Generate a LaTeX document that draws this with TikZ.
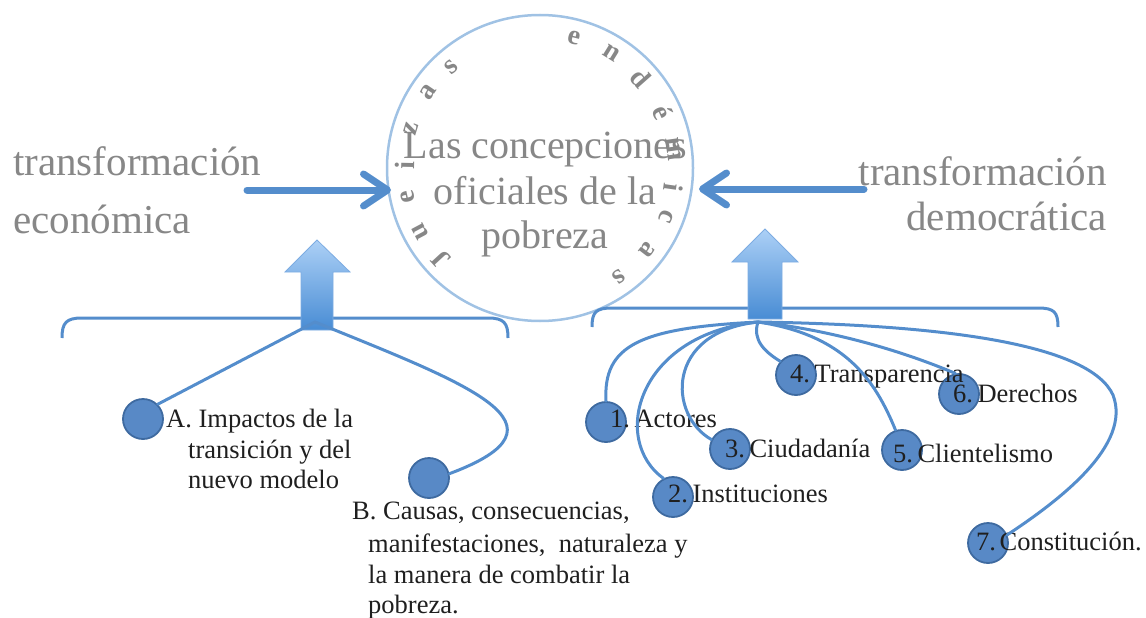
\documentclass[tikz,border=0pt]{standalone}
\usepackage{fontspec}
\setmainfont{Liberation Serif}
\usetikzlibrary{arrows.meta}
\definecolor{lineblue}{RGB}{84,141,204}
\definecolor{dotfill}{RGB}{88,137,198}
\definecolor{dotedge}{RGB}{62,106,160}
\definecolor{ringblue}{RGB}{160,194,228}
\definecolor{txtgray}{RGB}{135,135,135}
\definecolor{lettergray}{RGB}{135,135,135}
\definecolor{arrtop}{RGB}{172,208,246}
\definecolor{arrbot}{RGB}{72,140,212}
\definecolor{arredge}{RGB}{125,172,226}
\begin{document}
\begin{tikzpicture}[x=1pt,y=-1pt,
 conn/.style={draw=lineblue, line width=3pt, line cap=round},
 dotnode/.style={circle, fill=dotfill, draw=dotedge, line width=1.8pt, minimum size=40pt, inner sep=0pt},
 lbl/.style={anchor=base west, inner sep=0pt, font=\fontsize{26.5}{31}\selectfont, text=black!88},
 bigtxt/.style={inner sep=0pt, font=\fontsize{41}{48}\selectfont, text=txtgray},
 ctr/.style={inner sep=0pt, anchor=base, font=\fontsize{40}{45}\selectfont, text=txtgray},
 ringletter/.style={inner sep=0pt, font=\bfseries\fontsize{28}{28}\selectfont, text=lettergray},
 bigarrow/.style={draw=lineblue, line width=7pt, line cap=round, -{Straight Barb[length=24pt 0, width=32pt 0, round]}},
 bracestyle/.style={draw=lineblue, line width=3pt},
 uparrow/.style={top color=arrtop, bottom color=arrbot, draw=arredge, line width=0.8pt}
]
\useasboundingbox (0,0) rectangle (1146,618);

% ring with curved letters
\node[circle, draw=ringblue, line width=2.5pt, minimum size=306pt, inner sep=0pt] (ring) at (540,168) {};
\foreach \a/\l in {222.7/J, 208/u, 192.5/e, 178.8/i, 163/z, 146/a, 131.3/s,
                   75.2/e, 58.2/n, 41.6/d, 24.3/é, 7.9/m, -8.2/i, -21/c, -37.5/a, -54/s}
  \path (ring.center) ++(-\a:135) node[ringletter, rotate=\a-90] {\l};

% center title
\node[ctr] (title1) at (545.5,158) {Las concepciones};
\node[ctr] (title2) at (545,204) {oficiales de la};
\node[ctr] (title3) at (545,248) {pobreza};

% side labels
\node[bigtxt, anchor=base west] (le1) at (13,175) {transformación};
\node[bigtxt, anchor=base west] (le2) at (13,233) {económica};
\node[bigtxt, anchor=base east] (ri1) at (1107,185) {transformación};
\node[bigtxt, anchor=base east] (ri2) at (1107,230) {democrática};

% horizontal arrows
\coordinate (ltail) at (247,190);
\coordinate (lhead) at (391,190);
\coordinate (rtail) at (864,189);
\coordinate (rhead) at (699,189);
\draw[bigarrow] (ltail) -- (lhead);
\draw[bigarrow] (rtail) -- (rhead);

% braces
\draw[bracestyle] (62,338) .. controls (62,323) and (66,318) .. (82,318) -- (488,318) .. controls (504,318) and (508,323) .. (508,338);
\draw[bracestyle] (592,327) .. controls (592,312) and (596,308) .. (612,308) -- (1038,308) .. controls (1054,308) and (1058,312) .. (1058,327);

% up arrows
\shadedraw[uparrow] (317,240) -- (350,272) -- (333,272) -- (333,330) -- (301,330) -- (301,272) -- (285,272) -- cycle;
\shadedraw[uparrow] (765,229) -- (798,262) -- (782,262) -- (782,319) -- (748,319) -- (748,262) -- (732,262) -- cycle;

\coordinate (OL) at (315,322);
\coordinate (OR) at (758,322);

% circles
\node[dotnode] (cA) at (143,419) {};
\node[dotnode] (cB) at (429,478) {};
\node[dotnode] (c1) at (606,422) {};
\node[dotnode] (c2) at (673,497) {};
\node[dotnode] (c3) at (730,449) {};
\node[dotnode] (c4) at (796,375) {};
\node[dotnode] (c5) at (902,450) {};
\node[dotnode] (c6) at (959,394) {};
\node[dotnode] (c7) at (988,543) {};

% labels
\node[lbl] (ta1) at (166,427) {A. Impactos de la};
\node[lbl] (ta2) at (188,458) {transición y del};
\node[lbl] (ta3) at (188,488) {nuevo modelo};
\node[lbl] (tb1) at (352,519) {B. Causas, consecuencias,};
\node[lbl] (tb2) at (368,552) {manifestaciones,\ \ naturaleza y};
\node[lbl] (tb3) at (368,583) {la manera de combatir la};
\node[lbl] (tb4) at (368,613) {pobreza.};
\node[lbl] (t1) at (610,427) {1.\kern4.5pt Actores};
\node[lbl] (t2) at (668,502) {2.\kern4.5pt Instituciones};
\node[lbl] (t3) at (725,457) {3.\kern4.5pt Ciudadanía};
\node[lbl] (t4) at (790,382) {4.\kern4.5pt Transparencia};
\node[lbl] (t5) at (893,462) {5.\kern4.5pt Clientelismo};
\node[lbl] (t6) at (953,402) {6.\kern4.5pt Derechos};
\node[lbl] (t7) at (976,550) {7.\kern3.5pt Constitución.};

% connectors
\draw[conn] (OL) -- (cA.45);
\draw[conn] (OL) .. controls (470,385) and (580,425) .. (cB.12);
\draw[conn] (OR) .. controls (640,328) and (603,345) .. (c1.north);
\draw[conn] (OR) .. controls (637,334) and (610,440) .. (c2.117);
\draw[conn] (OR) .. controls (665,332) and (668,415) .. (c3.153);
\draw[conn] (OR) .. controls (752,340) and (765,352) .. (c4.139);
\draw[conn] (OR) .. controls (845,335) and (875,380) .. (c5.108);
\draw[conn] (OR) .. controls (830,330) and (900,350) .. (c6.100);
\draw[conn] (OR) .. controls (950,325) and (1090,345) .. (1113,395) .. controls (1132,445) and (1060,500) .. (c7.23);
\end{tikzpicture}
\end{document}
